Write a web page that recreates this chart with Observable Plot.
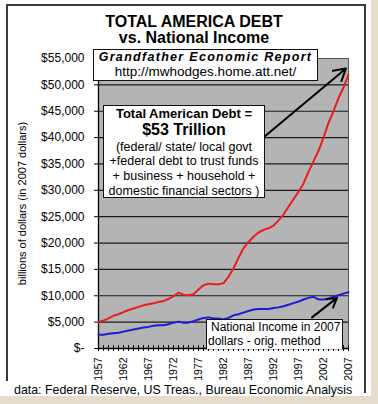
<!DOCTYPE html>
<html><head><meta charset="utf-8">
<script src="https://cdn.jsdelivr.net/npm/d3@7"></script>
<script src="https://cdn.jsdelivr.net/npm/@observablehq/plot@0.6"></script>
<style>
body{margin:0;background:#fff;font-family:"Liberation Sans",Arial,sans-serif;color:#000;}
#wrap{position:relative;width:378px;height:404px;overflow:hidden;background:#fff;}
#wrap svg{position:absolute;left:0;top:0;}
.abs{position:absolute;white-space:nowrap;line-height:1;}
.c{text-align:center;}
.box{position:absolute;background:#fff;border:1.5px solid #111;box-sizing:border-box;}
.ln{position:absolute;background:#3a3a3a;}
.shade{position:absolute;background:#e4ddcc;}
</style></head><body>
<div id="wrap"></div>
<script>
// ---- data ----
const years = [1957,1958,1959,1960,1961,1962,1963,1964,1965,1966,1967,1968,1969,1970,1971,1972,1973,1974,1975,1976,1977,1978,1979,1980,1981,1982,1983,1984,1985,1986,1987,1988,1989,1990,1991,1992,1993,1994,1995,1996,1997,1998,1999,2000,2001,2002,2003,2004,2005,2006,2007];
const totalDebt = [5000,5300,5700,6200,6500,6900,7300,7600,7900,8200,8400,8600,8800,9000,9400,9900,10600,10200,10100,10300,11200,12000,12300,12200,12200,12400,13600,15200,17200,19000,20200,21200,22000,22500,22800,23300,24300,25400,26900,28300,29700,31300,33500,35500,37500,40000,42800,45000,47500,49500,52000];
const nationalIncome = [2600,2600,2800,2900,3000,3200,3400,3600,3800,4000,4100,4300,4400,4400,4600,4900,5100,4900,4900,5200,5500,5800,5900,5700,5700,5500,5800,6300,6500,6800,7100,7400,7500,7500,7500,7700,7800,8000,8300,8600,8900,9300,9600,9800,9300,9300,9500,9800,10100,10400,10700];
const yTicks = [0,5000,10000,15000,20000,25000,30000,35000,40000,45000,50000,55000];
const gridValues = [5000,10000,15000,20000,25000,30000,35000,40000,45000,50000];
const labelYears = [1957,1962,1967,1972,1977,1982,1987,1992,1997,2002,2007];
const title1 = "TOTAL AMERICA DEBT";
const title2 = "vs. National Income";
const yTitle = "billions of dollars (in 2007 dollars)";
const caption = "data: Federal Reserve, US Treas., Bureau Economic Analysis";
const reportTitle = "Grandfather Economic Report";
const reportUrl = "http://mwhodges.home.att.net/";
const debtNote = ["Total American Debt =", "$53 Trillion", "(federal/ state/ local govt", "+federal debt to trust funds", "+ business + household +", "domestic financial sectors )"];
const incomeNote = ["National Income in 2007", "dollars - orig. method"];
const arrows = [
  {x1: 1990.1, y1: 40100, x2: 2006.5, y2: 53100},
  {x1: 1999.7, y1: 5900, x2: 2004.7, y2: 9600}
];

const debtRows = years.map((y, i) => ({year: y, value: totalDebt[i]}));
const incomeRows = years.map((y, i) => ({year: y, value: nationalIncome[i]}));
const fmt = d3.format(",");

const chart = Plot.plot({
  width: 378, height: 404,
  marginLeft: 98, marginRight: 30, marginTop: 58, marginBottom: 56,
  x: {domain: [1957, 2007]},
  y: {domain: [0, 55000]},
  style: {background: "transparent", fontFamily: "Liberation Sans, Arial, sans-serif", fontSize: "12px", color: "#000"},
  marks: [
    Plot.frame({fill: "#b4b4b4", stroke: "#555"}),
    Plot.ruleY(gridValues, {stroke: "#1a1a1a", strokeWidth: 1.2}),
    Plot.axisY({ticks: yTicks, tickFormat: d => d === 0 ? "$-" : "$" + fmt(d), tickSize: 4, tickPadding: 10, fontSize: 12, label: null}),
    Plot.axisX({ticks: years, tickSize: 6, dy: -3, tickFormat: () => "", label: null}),
    Plot.axisX({ticks: labelYears, tickSize: 0, tickRotate: -90, tickPadding: 9, tickFormat: d => String(d), fontSize: 10.5, label: null}),
    Plot.ruleX([1957], {stroke: "#000", strokeWidth: 1.3}),
    Plot.ruleY([0], {stroke: "#000", strokeWidth: 1.5}),
    Plot.lineY(debtRows, {x: "year", y: "value", stroke: "#ec1c1c", strokeWidth: 2}),
    Plot.lineY(incomeRows, {x: "year", y: "value", stroke: "#1c1cd6", strokeWidth: 2}),
    Plot.arrow(arrows, {x1: "x1", y1: "y1", x2: "x2", y2: "y2", stroke: "#000", strokeWidth: 2, headLength: 10}),
    Plot.text([yTitle], {frameAnchor: "left", textAnchor: "middle", rotate: -90, dx: -76, fontSize: 11, text: d => d})
  ]
});
const wrap = document.getElementById("wrap");
wrap.appendChild(chart);

function add(cls, style, text) {
  const el = document.createElement("div");
  el.className = cls;
  el.setAttribute("style", style);
  if (text != null) el.textContent = text;
  wrap.appendChild(el);
  return el;
}
// outer frame
add("ln", "left:6px;top:4px;width:2px;height:377px;");
add("ln", "left:6px;top:4px;width:360px;height:2px;");
add("ln", "left:364px;top:4px;width:2px;height:389px;");
add("shade", "left:371px;top:0;width:7px;height:404px;");
add("shade", "left:0;top:396px;width:378px;height:8px;");
// titles
add("abs c", "left:0;width:388px;top:14px;font-size:16px;font-weight:bold;", title1);
add("abs c", "left:0;width:388px;top:30px;font-size:16px;font-weight:bold;", title2);
add("abs", "left:14px;top:384px;font-size:12.4px;", caption);
// report box
add("box", "left:93px;top:49px;width:225px;height:32px;");
add("abs c", "left:93px;width:225px;top:51px;font-size:12.5px;font-weight:bold;font-style:italic;letter-spacing:1.3px;", reportTitle);
add("abs c", "left:93px;width:225px;top:65px;font-size:13.5px;", reportUrl);
// debt box
add("box", "left:103px;top:105px;width:162px;height:93px;");
const tops = [106.5, 121.7, 140.6, 154.6, 169.6, 184.6];
const sizes = [13, 16, 12.5, 12.5, 12.5, 12.5];
debtNote.forEach((t, i) => {
  add("abs c", `left:103px;width:162px;top:${tops[i]}px;font-size:${sizes[i]}px;${i < 2 ? "font-weight:bold;" : ""}`, t);
});
// income box (clipped by x axis)
add("box", "left:206px;top:319px;width:137px;height:30px;overflow:hidden;border-bottom:none;");
add("abs", "left:211px;top:320.5px;font-size:12px;", incomeNote[0]);
add("abs", "left:208px;top:335px;font-size:12px;height:13px;overflow:hidden;", incomeNote[1]);
</script>
</body></html>
